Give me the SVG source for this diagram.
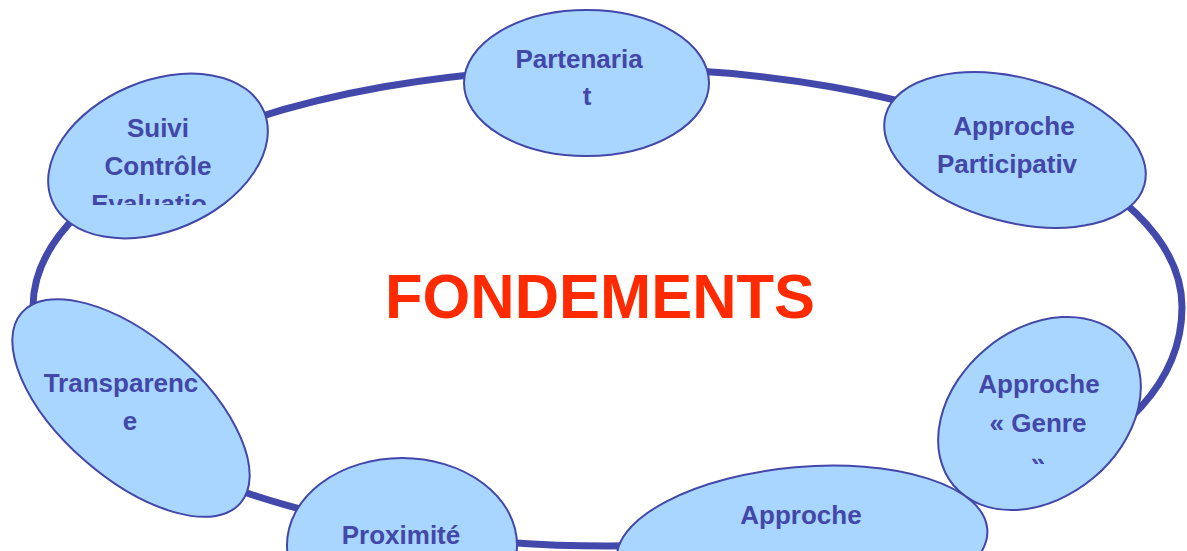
<svg xmlns="http://www.w3.org/2000/svg" width="1187" height="551" viewBox="0 0 1187 551">
  <style>
    .node { fill: #A8D6FF; stroke: #4247A8; stroke-width: 2; }
    .lbl { font-family: "Liberation Sans", Arial, sans-serif; font-weight: bold; font-size: 26px; fill: #4247A8; text-anchor: middle; }
    .title { font-family: "Liberation Sans", Arial, sans-serif; font-weight: bold; font-size: 63px; fill: #FF2A00; text-anchor: middle; }
    .ring { fill: none; stroke: #4249AA; stroke-width: 7; }
  </style>
  <defs>
    <clipPath id="clipSuivi"><rect x="0" y="0" width="300" height="205"/></clipPath>
    <clipPath id="clipGenre"><rect x="900" y="300" width="287" height="164"/></clipPath>
  </defs>
  <rect width="1187" height="551" fill="#FFFFFF"/>

  <g id="connectors">
    <path class="ring" d="M 33 307 C 33 175 290.5 68 607.5 68 C 924.5 68 1182 175 1182 307 C 1182 455 955 546 607.5 546 C 290.5 546 33 439 33 307 Z"/>
  </g>

  <g id="title">
    <text class="title" x="600" y="318" textLength="430" lengthAdjust="spacingAndGlyphs">FONDEMENTS</text>
  </g>

  <g id="node-partenariat">
    <ellipse class="node" cx="586.5" cy="83" rx="122.5" ry="73"/>
    <text class="lbl" x="579" y="68">Partenaria</text>
    <text class="lbl" x="587" y="105">t</text>
  </g>

  <g id="node-participative">
    <ellipse class="node" cx="1015" cy="150" rx="134" ry="72" transform="rotate(15 1015 150)"/>
    <text class="lbl" x="1014" y="135">Approche</text>
    <text class="lbl" x="1007" y="173">Participativ</text>
  </g>

  <g id="node-suivi">
    <ellipse class="node" cx="158" cy="156" rx="115" ry="75" transform="rotate(-23 158 156)"/>
    <text class="lbl" x="158" y="137">Suivi</text>
    <text class="lbl" x="158" y="175">Contrôle</text>
    <text class="lbl" x="149" y="213" clip-path="url(#clipSuivi)">Evaluatio</text>
  </g>

  <g id="node-transparence">
    <ellipse class="node" cx="131" cy="408" rx="145" ry="70" transform="rotate(41 131 408)"/>
    <text class="lbl" x="121" y="392">Transparenc</text>
    <text class="lbl" x="130" y="430">e</text>
  </g>

  <g id="node-proximite">
    <ellipse class="node" cx="402" cy="545" rx="115" ry="87"/>
    <text class="lbl" x="401" y="544">Proximité</text>
  </g>

  <g id="node-genre">
    <ellipse class="node" cx="1039.5" cy="413.5" rx="112" ry="84" transform="rotate(-40 1039.5 413.5)"/>
    <text class="lbl" x="1039" y="393">Approche</text>
    <text class="lbl" x="1038" y="432">« Genre</text>
    <text class="lbl" x="1038" y="471" clip-path="url(#clipGenre)">»</text>
  </g>

  <g id="node-approche">
    <ellipse class="node" cx="802" cy="545" rx="186" ry="78" transform="rotate(-5 802 545)"/>
    <text class="lbl" x="801" y="524">Approche</text>
  </g>
</svg>
